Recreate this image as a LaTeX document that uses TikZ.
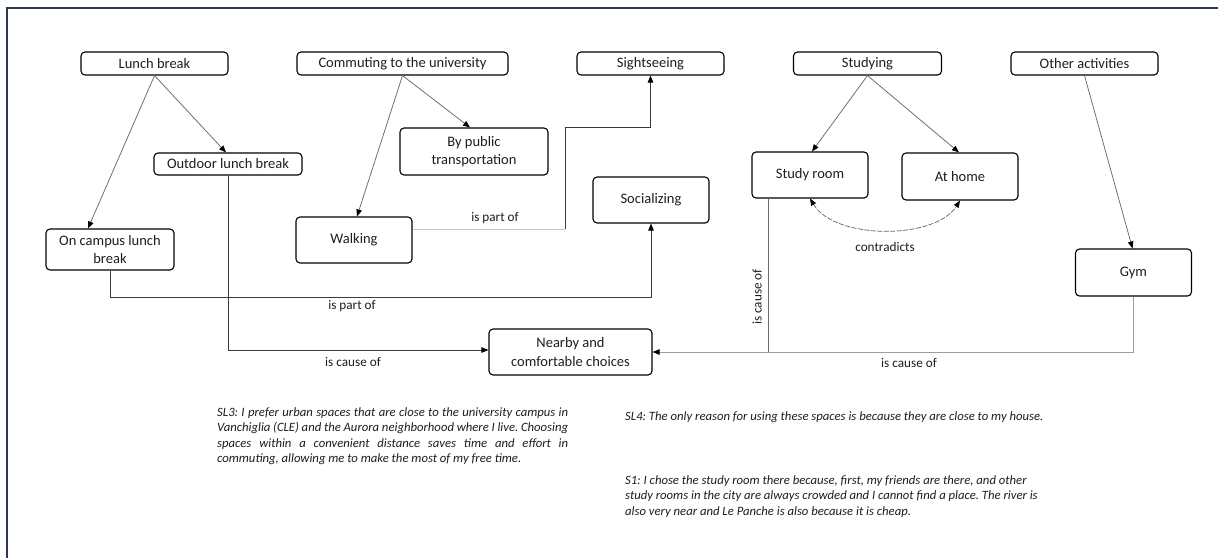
\documentclass[tikz,border=0pt]{standalone}
\usepackage{fontspec}
\setmainfont{Carlito}
\usetikzlibrary{arrows.meta}
\frenchspacing

\definecolor{framecol}{HTML}{2E3B4E}
\definecolor{linedark}{HTML}{3A3A3A}
\definecolor{linemid}{HTML}{6A6A6A}
\definecolor{linelight}{HTML}{C4C4C4}
\definecolor{textcol}{HTML}{1E1E1E}

\tikzset{
  concept/.style={draw=black, line width=1.1pt, rounded corners=4pt,
    inner sep=0pt, align=center, text=textcol,
    font=\fontsize{14.5}{18.5}\selectfont},
  link/.style={line width=0.75pt, draw=linemid},
  tip/.style={-{Triangle[length=7pt,width=5.5pt,color=black]}},
  rel/.style={font=\fontsize{13.2}{15}\selectfont, text=textcol, inner sep=0pt},
  quote/.style={font=\fontsize{12.7}{15.5}\selectfont\itshape, text=textcol,
    inner sep=0pt, anchor=north west},
}

\begin{document}
\begin{tikzpicture}[x=1pt, y=-1pt]
\useasboundingbox (0,0) rectangle (1218,558);
\fill[white] (0,0) rectangle (1218,558);

% page frame
\draw[framecol, line width=1.5pt] (7,558) -- (7,8) -- (1218,8);

% top-level activities
\node[concept, minimum width=147pt, minimum height=23pt] (lunch)    at (154.5,63.5) {Lunch break};
\node[concept, minimum width=211pt, minimum height=23pt] (commute)  at (402.5,63.5) {Commuting to the university};
\node[concept, minimum width=147pt, minimum height=23pt] (sight)    at (650.5,63.5) {Sightseeing};
\node[concept, minimum width=148pt, minimum height=23pt] (studying) at (867.5,63.5) {Studying};
\node[concept, minimum width=147pt, minimum height=23pt] (other)    at (1084.5,63.5) {Other activities};

% sub-activities
\node[concept, minimum width=148pt, minimum height=22pt] (outdoor)   at (228,164) {Outdoor lunch break};
\node[concept, minimum width=148pt, minimum height=47pt] (bypublic)  at (474,151.5) {By public\\transportation};
\node[concept, minimum width=116pt, minimum height=46pt] (social)    at (651,200) {Socializing};
\node[concept, minimum width=116pt, minimum height=46pt] (studyroom) at (810,175) {Study room};
\node[concept, minimum width=116pt, minimum height=47pt] (athome)    at (960,176.5) {At home};
\node[concept, minimum width=128pt, minimum height=41pt] (oncampus)  at (110,249.5) {On campus lunch\\break};
\node[concept, minimum width=116pt, minimum height=46pt] (walking)   at (354,240) {Walking};
\node[concept, minimum width=116pt, minimum height=47pt] (gym)       at (1133.5,272.5) {Gym};
\node[concept, minimum width=163pt, minimum height=46pt] (nearby)    at (570.5,352) {Nearby and\\comfortable choices};

% hierarchy arrows
\draw[link, tip] (lunch.south) -- ([xshift=-22pt]oncampus.north);
\draw[link, tip] (lunch.south) -- ([xshift=-2pt]outdoor.north);
\draw[link, tip] (commute.south) -- ([xshift=3pt]walking.north);
\draw[link, tip] (commute.south) -- ([xshift=-4pt]bypublic.north);
\draw[link, tip] (studying.south) -- ([xshift=2pt]studyroom.north);
\draw[link, tip] (studying.south) -- ([xshift=-1pt]athome.north);
\draw[link, tip] (other.south) -- ([xshift=-1pt]gym.north);

% walking is part of sightseeing
\coordinate (wk) at (565,229);
\draw[link, draw=linelight] ([yshift=11pt]walking.east) -- (wk);
\draw[link, draw=linedark, tip] (wk) -- (wk |- bypublic.north) -| (sight.south);
\node[rel] (lbwalk) at (495,218) {is part of};

% on campus lunch break is part of socializing
\draw[link, draw=linedark, tip] (oncampus.south) -- ++(0,27) -| (social.south);
\node[rel] (lbcampus) at (352,306) {is part of};

% outdoor lunch break is cause of nearby choices
\draw[link, draw=linedark, tip] (outdoor.south) -- ([yshift=2pt]outdoor.south |- nearby.west) -- ([yshift=2pt]nearby.west);
\node[rel] (lboutdoor) at (353,362) {is cause of};

% gym and study room are cause of nearby choices
\draw[link, draw=linelight!80!black, tip] (gym.south) -- (gym.south |- nearby.east) -- (nearby.east);
\draw[link] ([xshift=-42pt]studyroom.south) -- ([xshift=-42pt]studyroom.south |- nearby.east);
\node[rel, rotate=90] (lbstudy) at (757,297) {is cause of};
\node[rel] (lbgym) at (909,363) {is cause of};

% study room contradicts at home
\draw[link, dashed, dash pattern=on 5pt off 1.5pt,
      {Triangle[length=7pt,width=5.5pt,color=black]}-{Triangle[length=7pt,width=5.5pt,color=black]}]
  (studyroom.south) .. controls (835,240) and (935,240) .. (athome.south);
\node[rel] (lbcontra) at (885,247) {contradicts};

% interview excerpts
\node[quote, text width=351pt, align=justify] (sl3) at (217,407)
  {SL3: I prefer urban spaces that are close to the university campus in\linebreak
   Vanchiglia (CLE) and the Aurora neighborhood where I live. Choosing\linebreak
   spaces within a convenient distance saves time and effort in\linebreak
   commuting, allowing me to make the most of my free time.};
\node[quote] (sl4) at (625,411)
  {SL4: The only reason for using these spaces is because they are close to my house.};
\node[quote, align=left] (s1) at (625,475)
  {S1: I chose the study room there because, first, my friends are there, and other\\
   study rooms in the city are always crowded and I cannot find a place. The river is\\
   also very near and Le Panche is also because it is cheap.};
\end{tikzpicture}
\end{document}
